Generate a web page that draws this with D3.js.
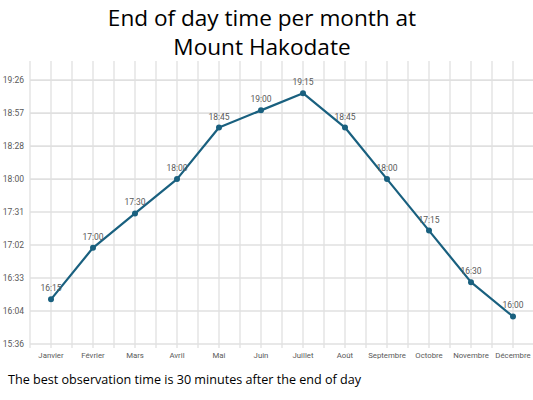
<!DOCTYPE html>
<html><head><meta charset="utf-8">
<script src="https://cdn.jsdelivr.net/npm/d3@7"></script>
<style>
body{margin:0;background:#fff;}
svg{display:block;}
</style></head>
<body>
<svg id="c" width="533" height="400"></svg>
<script>
const months = ["Janvier","Février","Mars","Avril","Mai","Juin","Juillet","Août","Septembre","Octobre","Novembre","Décembre"];
const endOfDay = ["16:15","17:00","17:30","18:00","18:45","19:00","19:15","18:45","18:00","17:15","16:30","16:00"];
const yTickDays = [0.65,0.67,0.69,0.71,0.73,0.75,0.77,0.79,0.81];
const titleLines = ["End of day time per month at","Mount Hakodate"];
const footnote = "The best observation time is 30 minutes after the end of day";

(function(){
const toMin = s => { const [h,m] = s.split(":").map(Number); return h*60+m; };
const fmt = m => { const h = Math.floor(m/60), mm = Math.floor(m - h*60 + 1e-6); return h + ":" + String(mm).padStart(2,"0"); };

const svg = d3.select("#c");
const pLeft = 30, pRight = 534, pTop = 61, pBottom = 344;

const x = d3.scaleBand().domain(months).range([pLeft, pRight]).padding(0);
const y = d3.scaleLinear().domain([0.65*1440, 0.8216*1440]).range([pBottom, pTop]);

const vx = [];
months.forEach((m,i)=>{ vx.push(x(m)); vx.push(x(m)+x.bandwidth()/2); });
vx.push(pRight);
svg.append("g").selectAll("line").data(vx).join("line")
  .attr("x1",d=>d).attr("x2",d=>d).attr("y1",pTop).attr("y2",pBottom+4)
  .attr("stroke","#e6e6e6").attr("stroke-width",1.6);

const yTicks = yTickDays.map(d=>d*1440);
svg.append("g").selectAll("line").data(yTicks).join("line")
  .attr("x1",pLeft).attr("x2",pRight).attr("y1",d=>y(d)).attr("y2",d=>y(d))
  .attr("stroke","#e0e0e0").attr("stroke-width",1.6);

svg.append("g").selectAll("text").data(yTicks).join("text")
  .attr("x",24).attr("y",d=>y(d)).attr("dy","0.35em").attr("text-anchor","end")
  .attr("font-family","Roboto, sans-serif").attr("font-size",8.5).attr("fill","#595959")
  .text(d=>fmt(d));

svg.append("g").selectAll("text").data(months).join("text")
  .attr("x",d=>x(d)+x.bandwidth()/2).attr("y",355).attr("dy","0.35em").attr("text-anchor","middle")
  .attr("font-family","Roboto, sans-serif").attr("font-size",7.8).attr("fill","#595959")
  .text(d=>d);

const data = months.map((m,i)=>({m, v: toMin(endOfDay[i]), label: endOfDay[i]}));
const line = d3.line().x(d=>x(d.m)+x.bandwidth()/2).y(d=>y(d.v));
svg.append("path").datum(data).attr("d",line).attr("fill","none")
  .attr("stroke","#19607f").attr("stroke-width",2.2).attr("stroke-linejoin","round");
svg.append("g").selectAll("circle").data(data).join("circle")
  .attr("cx",d=>x(d.m)+x.bandwidth()/2).attr("cy",d=>y(d.v)).attr("r",3).attr("fill","#19607f");

svg.append("g").selectAll("text").data(data).join("text")
  .attr("x",d=>x(d.m)+x.bandwidth()/2).attr("y",d=>y(d.v)-11).attr("dy","0.35em").attr("text-anchor","middle")
  .attr("font-family","Roboto, sans-serif").attr("font-size",8.5).attr("fill","#595959")
  .text(d=>d.label);

svg.append("g").selectAll("text").data(titleLines).join("text")
  .attr("x",262).attr("y",(d,i)=>18+i*29).attr("dy","0.35em").attr("text-anchor","middle")
  .attr("font-family","'Open Sans', sans-serif").attr("font-size",22.6).attr("fill","#000")
  .text(d=>d);

svg.append("text").attr("x",8).attr("y",380).attr("dy","0.35em")
  .attr("font-family","'Open Sans', sans-serif").attr("font-size",12.6).attr("fill","#000")
  .text(footnote);
})();
</script>
</body></html>
